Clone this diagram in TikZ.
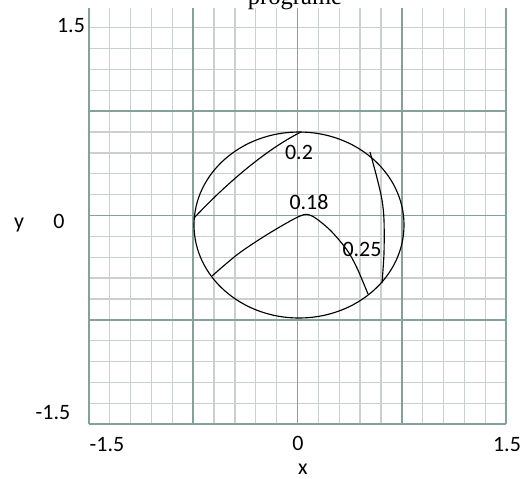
\documentclass[tikz,border=0pt]{standalone}
\usepackage{fontspec}
\setmainfont{Carlito}
\newfontfamily\titlefont{Liberation Serif}
\usetikzlibrary{calc}
\definecolor{gridminor}{HTML}{C9D0CD}
\definecolor{gridmajor}{HTML}{86A09B}

\begin{document}
\begin{tikzpicture}[
  x=0.02cm, y=-0.02cm,
  font=\fontsize{12.5}{14}\selectfont,
  minor/.style={draw=gridminor, line width=0.7pt},
  major/.style={draw=gridmajor, line width=0.9pt},
  curve/.style={draw=black, line width=0.65pt},
  lbl/.style={inner sep=0pt, anchor=base, text=black},
]
  \useasboundingbox (0,0) rectangle (527,478);

  % grid
  \foreach \i in {0,...,20}
    \draw[minor] ({89+20.85*\i},8) -- ({89+20.85*\i},424);
  \foreach \j in {0,...,19}
    \draw[minor] (89,{424-20.85*\j}) -- (506,{424-20.85*\j});
  \foreach \i in {0,5,...,20}
    \draw[major] ({89+20.85*\i},8) -- ({89+20.85*\i},424);
  \foreach \j in {0,5,10,15}
    \draw[major] (89,{424-20.85*\j}) -- (506,{424-20.85*\j});

  % title and axes
  \node[lbl, font=\titlefont\fontsize{14}{16}\selectfont] (title) at (295,4) {programe};
  \node[lbl] (ytop) at (71,32)  {1.5};
  \node[lbl] (ymid) at (59,228) {0};
  \node[lbl] (ybot) at (53,419) {-1.5};
  \node[lbl] (ylab) at (19,228) {y};
  \node[lbl] (xl)   at (107,451) {-1.5};
  \node[lbl] (xmid) at (298,450) {0};
  \node[lbl] (xr)   at (507,451) {1.5};
  \node[lbl] (xlab) at (303,474) {x};

  % circle and curves
  \coordinate (o) at (299,225);
  \draw[curve] (o) ellipse [x radius=105, y radius=93];

  \coordinate (aL) at (194,218);
  \coordinate (aT) at (301,132);
  \draw[curve] (aL) .. controls (225,185) and (265,150) .. (aT);

  \coordinate (bL) at (212,276);
  \coordinate (bR) at (368,294);
  \draw[curve] plot[smooth, tension=0.5] coordinates
    {(bL) (238,254) (268,234) (300,216) (312,216) (330,230) (347,250) (357,268) (bR)};

  \coordinate (cT) at (370,152);
  \coordinate (cB) at (382,283);
  \draw[curve] plot[smooth, tension=0.5] coordinates
    {(cT) (377,178) (382,200) (384,220) (384,253) (cB)};

  \node[lbl] (l20) at (299,159) {0.2};
  \node[lbl] (l18) at (309,209) {0.18};
  \node[lbl] (l25) at (362,256) {0.25};
\end{tikzpicture}
\end{document}
